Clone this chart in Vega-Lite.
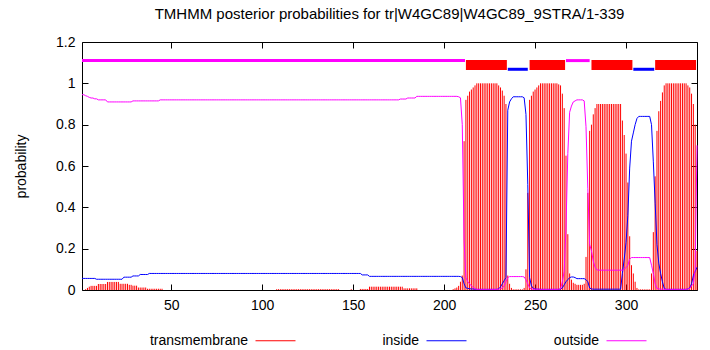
{
"$schema":"https://vega.github.io/schema/vega-lite/v6.json",
"width":615,"height":248,
"autosize":{"type":"none"},
"padding":{"left":82,"top":42,"right":13,"bottom":60},
"config":{"view":{"stroke":"black","strokeWidth":1},"font":"Liberation Sans",
 "axis":{"grid":false,"domainColor":"black","tickColor":"black","labelColor":"black","labelFontSize":14,"titleFontSize":14,"titleFontWeight":"normal","titleColor":"black","tickSize":-6,"labelFont":"Liberation Sans","titleFont":"Liberation Sans"},
 "legend":{"labelFont":"Liberation Sans"}},
"title":{"text":"TMHMM posterior probabilities for tr|W4GC89|W4GC89_9STRA/1-339","fontSize":15,"fontWeight":"normal","font":"Liberation Sans","color":"black","offset":13},
"datasets":{
"segs":[
{"kind":"outside","start":1,"end":211.5},
{"kind":"transmembrane","start":212,"end":234.5},
{"kind":"inside","start":235,"end":246},
{"kind":"transmembrane","start":247,"end":266.5},
{"kind":"outside","start":267,"end":280},
{"kind":"transmembrane","start":281,"end":303.5},
{"kind":"inside","start":304,"end":315.5},
{"kind":"transmembrane","start":316,"end":338.5}
],
"prob":[
{"pos":1,"tm":0,"in":0.056,"out":0.945},
{"pos":2,"tm":0,"in":0.056,"out":0.945},
{"pos":3,"tm":0.004,"in":0.056,"out":0.94},
{"pos":4,"tm":0.01,"in":0.056,"out":0.937},
{"pos":5,"tm":0.016,"in":0.056,"out":0.932},
{"pos":6,"tm":0.02,"in":0.056,"out":0.929},
{"pos":7,"tm":0.02,"in":0.056,"out":0.929},
{"pos":8,"tm":0.02,"in":0.056,"out":0.925},
{"pos":9,"tm":0.02,"in":0.052,"out":0.925},
{"pos":10,"tm":0.029,"in":0.052,"out":0.92},
{"pos":11,"tm":0.029,"in":0.052,"out":0.92},
{"pos":12,"tm":0.029,"in":0.052,"out":0.92},
{"pos":13,"tm":0.029,"in":0.052,"out":0.92},
{"pos":14,"tm":0.029,"in":0.052,"out":0.92},
{"pos":15,"tm":0.039,"in":0.052,"out":0.91},
{"pos":16,"tm":0.039,"in":0.052,"out":0.91},
{"pos":17,"tm":0.039,"in":0.052,"out":0.91},
{"pos":18,"tm":0.039,"in":0.052,"out":0.91},
{"pos":19,"tm":0.039,"in":0.052,"out":0.91},
{"pos":20,"tm":0.039,"in":0.052,"out":0.91},
{"pos":21,"tm":0.039,"in":0.052,"out":0.91},
{"pos":22,"tm":0.03,"in":0.052,"out":0.91},
{"pos":23,"tm":0.03,"in":0.052,"out":0.91},
{"pos":24,"tm":0.03,"in":0.062,"out":0.91},
{"pos":25,"tm":0.03,"in":0.062,"out":0.91},
{"pos":26,"tm":0.03,"in":0.062,"out":0.91},
{"pos":27,"tm":0.025,"in":0.062,"out":0.91},
{"pos":28,"tm":0.025,"in":0.062,"out":0.91},
{"pos":29,"tm":0.021,"in":0.068,"out":0.915},
{"pos":30,"tm":0.021,"in":0.068,"out":0.915},
{"pos":31,"tm":0.021,"in":0.068,"out":0.915},
{"pos":32,"tm":0.012,"in":0.068,"out":0.915},
{"pos":33,"tm":0.012,"in":0.075,"out":0.915},
{"pos":34,"tm":0.012,"in":0.075,"out":0.915},
{"pos":35,"tm":0.012,"in":0.075,"out":0.915},
{"pos":36,"tm":0.012,"in":0.075,"out":0.915},
{"pos":37,"tm":0.006,"in":0.075,"out":0.915},
{"pos":38,"tm":0.006,"in":0.08,"out":0.915},
{"pos":39,"tm":0.006,"in":0.08,"out":0.915},
{"pos":40,"tm":0.006,"in":0.08,"out":0.915},
{"pos":41,"tm":0.006,"in":0.08,"out":0.915},
{"pos":42,"tm":0.006,"in":0.08,"out":0.915},
{"pos":43,"tm":0.006,"in":0.08,"out":0.915},
{"pos":44,"tm":0.006,"in":0.08,"out":0.92},
{"pos":45,"tm":0.006,"in":0.08,"out":0.92},
{"pos":46,"tm":0,"in":0.08,"out":0.92},
{"pos":47,"tm":0,"in":0.08,"out":0.92},
{"pos":48,"tm":0,"in":0.08,"out":0.92},
{"pos":49,"tm":0,"in":0.08,"out":0.92},
{"pos":50,"tm":0,"in":0.08,"out":0.92},
{"pos":51,"tm":0,"in":0.08,"out":0.92},
{"pos":52,"tm":0,"in":0.08,"out":0.92},
{"pos":53,"tm":0,"in":0.08,"out":0.92},
{"pos":54,"tm":0,"in":0.08,"out":0.92},
{"pos":55,"tm":0,"in":0.08,"out":0.92},
{"pos":56,"tm":0,"in":0.08,"out":0.92},
{"pos":57,"tm":0,"in":0.08,"out":0.92},
{"pos":58,"tm":0,"in":0.08,"out":0.92},
{"pos":59,"tm":0,"in":0.08,"out":0.92},
{"pos":60,"tm":0,"in":0.08,"out":0.92},
{"pos":61,"tm":0,"in":0.08,"out":0.92},
{"pos":62,"tm":0,"in":0.08,"out":0.92},
{"pos":63,"tm":0,"in":0.08,"out":0.92},
{"pos":64,"tm":0,"in":0.08,"out":0.92},
{"pos":65,"tm":0,"in":0.08,"out":0.92},
{"pos":66,"tm":0,"in":0.08,"out":0.92},
{"pos":67,"tm":0,"in":0.08,"out":0.92},
{"pos":68,"tm":0,"in":0.08,"out":0.92},
{"pos":69,"tm":0,"in":0.08,"out":0.92},
{"pos":70,"tm":0,"in":0.08,"out":0.92},
{"pos":71,"tm":0,"in":0.08,"out":0.92},
{"pos":72,"tm":0,"in":0.08,"out":0.92},
{"pos":73,"tm":0,"in":0.08,"out":0.92},
{"pos":74,"tm":0,"in":0.08,"out":0.92},
{"pos":75,"tm":0,"in":0.08,"out":0.92},
{"pos":76,"tm":0,"in":0.08,"out":0.92},
{"pos":77,"tm":0,"in":0.08,"out":0.92},
{"pos":78,"tm":0,"in":0.08,"out":0.92},
{"pos":79,"tm":0,"in":0.08,"out":0.92},
{"pos":80,"tm":0,"in":0.08,"out":0.92},
{"pos":81,"tm":0,"in":0.08,"out":0.92},
{"pos":82,"tm":0,"in":0.08,"out":0.92},
{"pos":83,"tm":0,"in":0.08,"out":0.92},
{"pos":84,"tm":0,"in":0.08,"out":0.92},
{"pos":85,"tm":0,"in":0.08,"out":0.92},
{"pos":86,"tm":0,"in":0.08,"out":0.92},
{"pos":87,"tm":0,"in":0.08,"out":0.92},
{"pos":88,"tm":0,"in":0.08,"out":0.92},
{"pos":89,"tm":0,"in":0.08,"out":0.92},
{"pos":90,"tm":0,"in":0.08,"out":0.92},
{"pos":91,"tm":0,"in":0.08,"out":0.92},
{"pos":92,"tm":0,"in":0.08,"out":0.92},
{"pos":93,"tm":0,"in":0.08,"out":0.92},
{"pos":94,"tm":0,"in":0.08,"out":0.92},
{"pos":95,"tm":0,"in":0.08,"out":0.92},
{"pos":96,"tm":0,"in":0.08,"out":0.92},
{"pos":97,"tm":0,"in":0.08,"out":0.92},
{"pos":98,"tm":0,"in":0.08,"out":0.92},
{"pos":99,"tm":0,"in":0.08,"out":0.92},
{"pos":100,"tm":0,"in":0.08,"out":0.92},
{"pos":101,"tm":0,"in":0.08,"out":0.92},
{"pos":102,"tm":0,"in":0.08,"out":0.92},
{"pos":103,"tm":0,"in":0.08,"out":0.92},
{"pos":104,"tm":0,"in":0.08,"out":0.92},
{"pos":105,"tm":0,"in":0.08,"out":0.92},
{"pos":106,"tm":0,"in":0.08,"out":0.92},
{"pos":107,"tm":0,"in":0.08,"out":0.92},
{"pos":108,"tm":0.004,"in":0.08,"out":0.92},
{"pos":109,"tm":0.004,"in":0.08,"out":0.92},
{"pos":110,"tm":0.004,"in":0.08,"out":0.92},
{"pos":111,"tm":0.004,"in":0.08,"out":0.92},
{"pos":112,"tm":0.004,"in":0.08,"out":0.92},
{"pos":113,"tm":0.004,"in":0.08,"out":0.92},
{"pos":114,"tm":0.004,"in":0.08,"out":0.92},
{"pos":115,"tm":0.004,"in":0.08,"out":0.92},
{"pos":116,"tm":0.004,"in":0.08,"out":0.92},
{"pos":117,"tm":0.004,"in":0.08,"out":0.92},
{"pos":118,"tm":0.004,"in":0.08,"out":0.92},
{"pos":119,"tm":0.004,"in":0.08,"out":0.92},
{"pos":120,"tm":0.004,"in":0.08,"out":0.92},
{"pos":121,"tm":0.004,"in":0.08,"out":0.92},
{"pos":122,"tm":0.004,"in":0.08,"out":0.92},
{"pos":123,"tm":0.004,"in":0.08,"out":0.92},
{"pos":124,"tm":0.004,"in":0.08,"out":0.92},
{"pos":125,"tm":0.004,"in":0.08,"out":0.92},
{"pos":126,"tm":0.004,"in":0.08,"out":0.92},
{"pos":127,"tm":0.004,"in":0.08,"out":0.92},
{"pos":128,"tm":0.004,"in":0.08,"out":0.92},
{"pos":129,"tm":0.004,"in":0.08,"out":0.92},
{"pos":130,"tm":0.004,"in":0.08,"out":0.92},
{"pos":131,"tm":0.004,"in":0.08,"out":0.92},
{"pos":132,"tm":0.004,"in":0.08,"out":0.92},
{"pos":133,"tm":0.004,"in":0.08,"out":0.92},
{"pos":134,"tm":0.004,"in":0.08,"out":0.92},
{"pos":135,"tm":0.004,"in":0.08,"out":0.92},
{"pos":136,"tm":0.004,"in":0.08,"out":0.92},
{"pos":137,"tm":0.004,"in":0.08,"out":0.92},
{"pos":138,"tm":0.004,"in":0.08,"out":0.92},
{"pos":139,"tm":0.004,"in":0.08,"out":0.92},
{"pos":140,"tm":0.004,"in":0.08,"out":0.92},
{"pos":141,"tm":0.004,"in":0.08,"out":0.92},
{"pos":142,"tm":0.004,"in":0.08,"out":0.92},
{"pos":143,"tm":0,"in":0.08,"out":0.92},
{"pos":144,"tm":0,"in":0.08,"out":0.92},
{"pos":145,"tm":0,"in":0.08,"out":0.92},
{"pos":146,"tm":0,"in":0.08,"out":0.92},
{"pos":147,"tm":0,"in":0.08,"out":0.92},
{"pos":148,"tm":0,"in":0.08,"out":0.92},
{"pos":149,"tm":0.004,"in":0.08,"out":0.92},
{"pos":150,"tm":0,"in":0.08,"out":0.92},
{"pos":151,"tm":0,"in":0.08,"out":0.92},
{"pos":152,"tm":0,"in":0.08,"out":0.92},
{"pos":153,"tm":0,"in":0.08,"out":0.92},
{"pos":154,"tm":0.005,"in":0.08,"out":0.92},
{"pos":155,"tm":0.005,"in":0.073,"out":0.92},
{"pos":156,"tm":0.005,"in":0.073,"out":0.92},
{"pos":157,"tm":0.005,"in":0.073,"out":0.92},
{"pos":158,"tm":0.005,"in":0.073,"out":0.92},
{"pos":159,"tm":0.016,"in":0.066,"out":0.92},
{"pos":160,"tm":0.016,"in":0.066,"out":0.92},
{"pos":161,"tm":0.016,"in":0.066,"out":0.92},
{"pos":162,"tm":0.016,"in":0.066,"out":0.92},
{"pos":163,"tm":0.016,"in":0.066,"out":0.92},
{"pos":164,"tm":0.016,"in":0.066,"out":0.92},
{"pos":165,"tm":0.016,"in":0.066,"out":0.92},
{"pos":166,"tm":0.016,"in":0.066,"out":0.92},
{"pos":167,"tm":0.016,"in":0.066,"out":0.92},
{"pos":168,"tm":0.016,"in":0.066,"out":0.92},
{"pos":169,"tm":0.016,"in":0.066,"out":0.92},
{"pos":170,"tm":0.016,"in":0.066,"out":0.92},
{"pos":171,"tm":0.016,"in":0.066,"out":0.92},
{"pos":172,"tm":0.016,"in":0.066,"out":0.92},
{"pos":173,"tm":0.016,"in":0.066,"out":0.92},
{"pos":174,"tm":0.016,"in":0.066,"out":0.92},
{"pos":175,"tm":0.016,"in":0.066,"out":0.92},
{"pos":176,"tm":0.016,"in":0.066,"out":0.924},
{"pos":177,"tm":0.016,"in":0.066,"out":0.924},
{"pos":178,"tm":0.008,"in":0.066,"out":0.924},
{"pos":179,"tm":0.008,"in":0.066,"out":0.924},
{"pos":180,"tm":0.008,"in":0.066,"out":0.929},
{"pos":181,"tm":0.008,"in":0.066,"out":0.929},
{"pos":182,"tm":0.008,"in":0.066,"out":0.929},
{"pos":183,"tm":0.008,"in":0.066,"out":0.929},
{"pos":184,"tm":0.008,"in":0.066,"out":0.929},
{"pos":185,"tm":0.008,"in":0.066,"out":0.937},
{"pos":186,"tm":0,"in":0.066,"out":0.937},
{"pos":187,"tm":0,"in":0.066,"out":0.937},
{"pos":188,"tm":0,"in":0.066,"out":0.937},
{"pos":189,"tm":0,"in":0.066,"out":0.937},
{"pos":190,"tm":0,"in":0.066,"out":0.937},
{"pos":191,"tm":0,"in":0.066,"out":0.937},
{"pos":192,"tm":0,"in":0.066,"out":0.937},
{"pos":193,"tm":0,"in":0.066,"out":0.937},
{"pos":194,"tm":0,"in":0.066,"out":0.937},
{"pos":195,"tm":0,"in":0.066,"out":0.937},
{"pos":196,"tm":0,"in":0.066,"out":0.937},
{"pos":197,"tm":0,"in":0.066,"out":0.937},
{"pos":198,"tm":0,"in":0.066,"out":0.937},
{"pos":199,"tm":0,"in":0.066,"out":0.937},
{"pos":200,"tm":0,"in":0.066,"out":0.937},
{"pos":201,"tm":0,"in":0.066,"out":0.937},
{"pos":202,"tm":0,"in":0.066,"out":0.937},
{"pos":203,"tm":0,"in":0.066,"out":0.937},
{"pos":204,"tm":0,"in":0.066,"out":0.937},
{"pos":205,"tm":0.004,"in":0.066,"out":0.937},
{"pos":206,"tm":0.008,"in":0.066,"out":0.937},
{"pos":207,"tm":0.012,"in":0.066,"out":0.937},
{"pos":208,"tm":0.02,"in":0.066,"out":0.935},
{"pos":209,"tm":0.04,"in":0.065,"out":0.93},
{"pos":210,"tm":0.07,"in":0.06,"out":0.8},
{"pos":211,"tm":0.72,"in":0.03,"out":0.24},
{"pos":212,"tm":0.92,"in":0.01,"out":0.06},
{"pos":213,"tm":0.94,"in":0.008,"out":0.04},
{"pos":214,"tm":0.96,"in":0.006,"out":0.03},
{"pos":215,"tm":0.97,"in":0.005,"out":0.02},
{"pos":216,"tm":0.98,"in":0.005,"out":0.012},
{"pos":217,"tm":0.99,"in":0.004,"out":0.006},
{"pos":218,"tm":1,"in":0.003,"out":0.003},
{"pos":219,"tm":1,"in":0.003,"out":0.003},
{"pos":220,"tm":1,"in":0.003,"out":0.003},
{"pos":221,"tm":1,"in":0.003,"out":0.003},
{"pos":222,"tm":1,"in":0.003,"out":0.003},
{"pos":223,"tm":1,"in":0.003,"out":0.003},
{"pos":224,"tm":1,"in":0.003,"out":0.003},
{"pos":225,"tm":1,"in":0.003,"out":0.003},
{"pos":226,"tm":1,"in":0.003,"out":0.003},
{"pos":227,"tm":1,"in":0.003,"out":0.003},
{"pos":228,"tm":1,"in":0.003,"out":0.003},
{"pos":229,"tm":1,"in":0.003,"out":0.003},
{"pos":230,"tm":0.99,"in":0.006,"out":0.004},
{"pos":231,"tm":0.98,"in":0.015,"out":0.006},
{"pos":232,"tm":0.965,"in":0.03,"out":0.01},
{"pos":233,"tm":0.94,"in":0.045,"out":0.02},
{"pos":234,"tm":0.9,"in":0.06,"out":0.04},
{"pos":235,"tm":0.07,"in":0.87,"out":0.06},
{"pos":236,"tm":0.03,"in":0.91,"out":0.065},
{"pos":237,"tm":0.01,"in":0.925,"out":0.065},
{"pos":238,"tm":0.003,"in":0.935,"out":0.065},
{"pos":239,"tm":0.003,"in":0.935,"out":0.065},
{"pos":240,"tm":0.003,"in":0.935,"out":0.065},
{"pos":241,"tm":0.003,"in":0.935,"out":0.065},
{"pos":242,"tm":0.003,"in":0.935,"out":0.065},
{"pos":243,"tm":0.003,"in":0.935,"out":0.065},
{"pos":244,"tm":0.01,"in":0.93,"out":0.063},
{"pos":245,"tm":0.1,"in":0.85,"out":0.05},
{"pos":246,"tm":0.47,"in":0.51,"out":0.03},
{"pos":247,"tm":0.92,"in":0.06,"out":0.01},
{"pos":248,"tm":0.94,"in":0.02,"out":0.005},
{"pos":249,"tm":0.96,"in":0.008,"out":0.004},
{"pos":250,"tm":0.97,"in":0.005,"out":0.004},
{"pos":251,"tm":0.98,"in":0.004,"out":0.004},
{"pos":252,"tm":0.99,"in":0.004,"out":0.004},
{"pos":253,"tm":1,"in":0.003,"out":0.003},
{"pos":254,"tm":1,"in":0.003,"out":0.003},
{"pos":255,"tm":1,"in":0.003,"out":0.003},
{"pos":256,"tm":1,"in":0.003,"out":0.003},
{"pos":257,"tm":1,"in":0.003,"out":0.003},
{"pos":258,"tm":1,"in":0.003,"out":0.003},
{"pos":259,"tm":1,"in":0.003,"out":0.003},
{"pos":260,"tm":1,"in":0.003,"out":0.003},
{"pos":261,"tm":1,"in":0.003,"out":0.003},
{"pos":262,"tm":1,"in":0.003,"out":0.003},
{"pos":263,"tm":0.995,"in":0.003,"out":0.004},
{"pos":264,"tm":0.99,"in":0.005,"out":0.005},
{"pos":265,"tm":0.95,"in":0.01,"out":0.04},
{"pos":266,"tm":0.88,"in":0.025,"out":0.09},
{"pos":267,"tm":0.65,"in":0.04,"out":0.3},
{"pos":268,"tm":0.27,"in":0.05,"out":0.66},
{"pos":269,"tm":0.08,"in":0.06,"out":0.86},
{"pos":270,"tm":0.05,"in":0.063,"out":0.89},
{"pos":271,"tm":0.035,"in":0.063,"out":0.91},
{"pos":272,"tm":0.03,"in":0.06,"out":0.915},
{"pos":273,"tm":0.025,"in":0.055,"out":0.92},
{"pos":274,"tm":0.025,"in":0.055,"out":0.92},
{"pos":275,"tm":0.025,"in":0.055,"out":0.92},
{"pos":276,"tm":0.025,"in":0.055,"out":0.92},
{"pos":277,"tm":0.03,"in":0.055,"out":0.915},
{"pos":278,"tm":0.16,"in":0.05,"out":0.79},
{"pos":279,"tm":0.47,"in":0.04,"out":0.49},
{"pos":280,"tm":0.77,"in":0.01,"out":0.22},
{"pos":281,"tm":0.8,"in":0.005,"out":0.19},
{"pos":282,"tm":0.85,"in":0.004,"out":0.14},
{"pos":283,"tm":0.88,"in":0.004,"out":0.11},
{"pos":284,"tm":0.9,"in":0.004,"out":0.097},
{"pos":285,"tm":0.9,"in":0.004,"out":0.096},
{"pos":286,"tm":0.9,"in":0.004,"out":0.096},
{"pos":287,"tm":0.9,"in":0.004,"out":0.096},
{"pos":288,"tm":0.9,"in":0.004,"out":0.096},
{"pos":289,"tm":0.9,"in":0.004,"out":0.096},
{"pos":290,"tm":0.9,"in":0.004,"out":0.096},
{"pos":291,"tm":0.9,"in":0.004,"out":0.096},
{"pos":292,"tm":0.9,"in":0.004,"out":0.096},
{"pos":293,"tm":0.9,"in":0.004,"out":0.096},
{"pos":294,"tm":0.9,"in":0.004,"out":0.096},
{"pos":295,"tm":0.9,"in":0.004,"out":0.096},
{"pos":296,"tm":0.9,"in":0.004,"out":0.096},
{"pos":297,"tm":0.9,"in":0.004,"out":0.096},
{"pos":298,"tm":0.82,"in":0.08,"out":0.096},
{"pos":299,"tm":0.75,"in":0.15,"out":0.1},
{"pos":300,"tm":0.66,"in":0.23,"out":0.11},
{"pos":301,"tm":0.52,"in":0.36,"out":0.12},
{"pos":302,"tm":0.26,"in":0.59,"out":0.15},
{"pos":303,"tm":0.12,"in":0.72,"out":0.157},
{"pos":304,"tm":0.08,"in":0.76,"out":0.157},
{"pos":305,"tm":0.04,"in":0.8,"out":0.157},
{"pos":306,"tm":0.01,"in":0.83,"out":0.157},
{"pos":307,"tm":0.003,"in":0.84,"out":0.157},
{"pos":308,"tm":0.003,"in":0.84,"out":0.157},
{"pos":309,"tm":0.003,"in":0.84,"out":0.157},
{"pos":310,"tm":0.003,"in":0.84,"out":0.157},
{"pos":311,"tm":0.003,"in":0.84,"out":0.157},
{"pos":312,"tm":0.003,"in":0.84,"out":0.157},
{"pos":313,"tm":0.003,"in":0.84,"out":0.157},
{"pos":314,"tm":0.08,"in":0.8,"out":0.12},
{"pos":315,"tm":0.28,"in":0.62,"out":0.08},
{"pos":316,"tm":0.55,"in":0.42,"out":0.03},
{"pos":317,"tm":0.77,"in":0.22,"out":0.008},
{"pos":318,"tm":0.865,"in":0.13,"out":0.005},
{"pos":319,"tm":0.915,"in":0.08,"out":0.004},
{"pos":320,"tm":0.956,"in":0.04,"out":0.004},
{"pos":321,"tm":0.99,"in":0.008,"out":0.004},
{"pos":322,"tm":1,"in":0.003,"out":0.003},
{"pos":323,"tm":1,"in":0.003,"out":0.003},
{"pos":324,"tm":1,"in":0.003,"out":0.003},
{"pos":325,"tm":1,"in":0.003,"out":0.003},
{"pos":326,"tm":1,"in":0.003,"out":0.003},
{"pos":327,"tm":1,"in":0.003,"out":0.003},
{"pos":328,"tm":1,"in":0.003,"out":0.003},
{"pos":329,"tm":1,"in":0.003,"out":0.003},
{"pos":330,"tm":1,"in":0.003,"out":0.003},
{"pos":331,"tm":1,"in":0.003,"out":0.003},
{"pos":332,"tm":1,"in":0.003,"out":0.003},
{"pos":333,"tm":1,"in":0.003,"out":0.003},
{"pos":334,"tm":0.99,"in":0.005,"out":0.005},
{"pos":335,"tm":0.98,"in":0.01,"out":0.008},
{"pos":336,"tm":0.95,"in":0.03,"out":0.02},
{"pos":337,"tm":0.9,"in":0.07,"out":0.03},
{"pos":338,"tm":0.8,"in":0.09,"out":0.1},
{"pos":339,"tm":0.19,"in":0.11,"out":0.7}
]},
"resolve":{"axis":{"x":"independent","y":"independent"}},
"layer":[
{"data":{"name":"prob"},"mark":{"type":"rule","strokeWidth":1},
 "encoding":{
  "x":{"field":"pos","type":"quantitative","scale":{"domain":[1,339],"nice":false,"zero":false},
   "axis":{"orient":"bottom","values":[50,100,150,200,250,300],"title":null,"labelPadding":14,"domain":false,"labelFlush":false}},
  "y":{"field":"tm","type":"quantitative","scale":{"domain":[0,1.2],"nice":false},
   "axis":{"orient":"left","values":[0,0.2,0.4,0.6,0.8,1,1.2],"format":".1~f","title":"probability","labelPadding":13,"titlePadding":27,"domain":false,"labelFlush":false}},
  "y2":{"datum":0},
  "color":{"datum":"transmembrane","type":"nominal","scale":{"domain":["transmembrane","inside","outside"],"range":["#ff0000","#0000ff","#ff00ff"]},
   "legend":{"orient":"none","legendX":173,"legendY":278,"direction":"horizontal","title":null,"symbolType":"stroke","symbolSize":1600,"symbolStrokeWidth":1,"labelFontSize":14,"labelColor":"black","labelAlign":"right","labelOffset":-48,"columnPadding":84,"padding":0}}}},
{"data":{"name":"prob"},"mark":{"type":"line","strokeWidth":1},
 "encoding":{
  "x":{"field":"pos","type":"quantitative","axis":{"orient":"top","values":[50,100,150,200,250,300],"labels":false,"title":null,"domain":false}},
  "y":{"field":"in","type":"quantitative","axis":{"orient":"right","values":[0,0.2,0.4,0.6,0.8,1,1.2],"labels":false,"title":null,"domain":false}},
  "color":{"datum":"inside","type":"nominal"}}},
{"data":{"name":"prob"},"mark":{"type":"line","strokeWidth":1},
 "encoding":{
  "x":{"field":"pos","type":"quantitative","axis":null},
  "y":{"field":"out","type":"quantitative","axis":null},
  "color":{"datum":"outside","type":"nominal"}}},
{"data":{"name":"segs"},"transform":[{"filter":"datum.kind == 'outside'"}],"mark":{"type":"rule","strokeWidth":3},
 "encoding":{
  "x":{"field":"start","type":"quantitative","axis":null},"x2":{"field":"end"},
  "y":{"datum":1.11,"type":"quantitative","axis":null},
  "color":{"field":"kind","type":"nominal","legend":null}}},
{"data":{"name":"segs"},"transform":[{"filter":"datum.kind == 'inside'"}],"mark":{"type":"rule","strokeWidth":3},
 "encoding":{
  "x":{"field":"start","type":"quantitative","axis":null},"x2":{"field":"end"},
  "y":{"datum":1.068,"type":"quantitative","axis":null},
  "color":{"field":"kind","type":"nominal","legend":null}}},
{"data":{"name":"segs"},"transform":[{"filter":"datum.kind == 'transmembrane'"}],"mark":{"type":"rect"},
 "encoding":{
  "x":{"field":"start","type":"quantitative","axis":null},"x2":{"field":"end"},
  "y":{"datum":1.065,"type":"quantitative","axis":null},"y2":{"datum":1.113},
  "color":{"field":"kind","type":"nominal","legend":null}}}
]
}
